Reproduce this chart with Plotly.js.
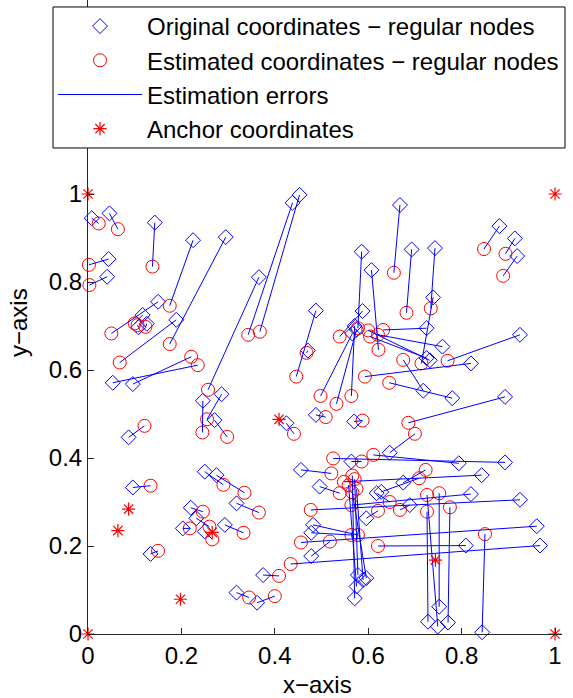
<!DOCTYPE html>
<html>
<head>
<meta charset="utf-8">
<script src="https://cdn.plot.ly/plotly-3.0.1.min.js"></script>
<style>html,body{margin:0;padding:0;background:#fff;}#chart{width:573px;height:698px;}</style>
</head>
<body>
<div id="chart"></div>
<script>
// Original (true) coordinates of regular nodes
const origX = [0.008,0.046,0.143,0.044,0.041,0.225,0.295,0.150,0.189,0.117,0.108,0.126,0.053,0.096,0.087,0.246,0.366,0.286,0.271,0.425,0.488,0.570,0.471,0.488,0.438,0.453,0.586,0.588,0.566,0.575,0.571,0.607,0.668,0.693,0.743,0.739,0.725,0.759,0.725,0.732,0.718,0.820,0.780,0.925,0.893,0.646,0.881,0.914,0.919,0.096,0.134,0.220,0.203,0.232,0.250,0.293,0.318,0.250,0.275,0.318,0.362,0.375,0.968,0.961,0.809,0.478,0.482,0.478,0.578,0.589,0.596,0.575,0.571,0.925,0.820,0.728,0.752,0.749,0.771,0.844,0.689,0.893,0.794,0.843,0.675,0.628,0.618,0.456,0.564,0.496,0.596];
const origY = [0.945,0.956,0.935,0.852,0.812,0.895,0.902,0.755,0.714,0.725,0.697,0.705,0.571,0.568,0.447,0.530,0.811,0.545,0.486,0.479,0.498,0.483,0.644,0.735,0.980,0.998,0.869,0.734,0.683,0.692,0.700,0.827,0.975,0.874,0.877,0.765,0.695,0.653,0.627,0.622,0.553,0.615,0.536,0.680,0.539,0.412,0.927,0.899,0.859,0.333,0.182,0.287,0.240,0.263,0.233,0.248,0.297,0.369,0.361,0.094,0.071,0.134,0.201,0.245,0.201,0.177,0.248,0.230,0.134,0.123,0.127,0.108,0.081,0.305,0.318,0.028,0.062,0.017,0.026,0.004,0.293,0.390,0.388,0.361,0.344,0.323,0.320,0.373,0.392,0.335,0.263];
// Estimated coordinates of regular nodes
const estX = [0.023,0.064,0.138,0.002,0.003,0.175,0.175,0.050,0.068,0.100,0.106,0.123,0.235,0.221,0.121,0.245,0.257,0.255,0.298,0.441,0.509,0.588,0.468,0.446,0.343,0.368,0.578,0.539,0.498,0.532,0.564,0.622,0.655,0.682,0.734,0.714,0.632,0.621,0.604,0.600,0.675,0.593,0.645,0.770,0.686,0.700,0.848,0.894,0.889,0.134,0.150,0.246,0.218,0.260,0.266,0.333,0.366,0.290,0.335,0.345,0.400,0.409,0.434,0.456,0.621,0.518,0.578,0.564,0.571,0.575,0.566,0.558,0.566,0.477,0.564,0.726,0.752,0.726,0.775,0.850,0.668,0.525,0.611,0.548,0.723,0.709,0.646,0.521,0.586,0.539,0.621];
const estY = [0.933,0.920,0.835,0.839,0.793,0.746,0.659,0.683,0.617,0.706,0.702,0.698,0.611,0.630,0.473,0.458,0.555,0.488,0.448,0.455,0.493,0.485,0.639,0.585,0.680,0.687,0.695,0.676,0.541,0.523,0.541,0.646,0.821,0.730,0.740,0.615,0.691,0.680,0.676,0.690,0.623,0.585,0.571,0.621,0.480,0.455,0.875,0.864,0.814,0.337,0.189,0.278,0.240,0.244,0.215,0.230,0.276,0.339,0.321,0.083,0.086,0.132,0.159,0.208,0.200,0.210,0.225,0.225,0.352,0.330,0.322,0.338,0.360,0.282,0.293,0.278,0.320,0.316,0.288,0.227,0.282,0.399,0.407,0.346,0.373,0.354,0.300,0.365,0.392,0.320,0.280];
// Anchor nodes
const anchorX = [0, 1, 0, 1, 0.409, 0.266, 0.744, 0.064, 0.087, 0.198];
const anchorY = [1, 1, 0, 0, 0.488, 0.231, 0.168, 0.235, 0.284, 0.079];
// Labels
const legendNames = ['Original coordinates \u2212 regular nodes','Estimated coordinates \u2212 regular nodes','Estimation errors','Anchor coordinates'];
const xTitle = 'x\u2212axis';
const yTitle = 'y\u2212axis';
const tickVals = [0, 0.2, 0.4, 0.6, 0.8, 1];
const tickText = ['0','0.2','0.4','0.6','0.8','1'];

const errX = [], errY = [];
for (let i = 0; i < origX.length; i++) {
  errX.push(origX[i], estX[i], null);
  errY.push(origY[i], estY[i], null);
}
const FONT = 'Liberation Sans, Arial, Helvetica, sans-serif';
const traces = [
  {x: origX, y: origY, mode: 'markers', type: 'scatter', name: legendNames[0], cliponaxis: false,
   marker: {symbol: 'diamond-open', size: 11.5, color: '#0000ff', line: {color: '#0000ff', width: 1}}},
  {x: estX, y: estY, mode: 'markers', type: 'scatter', name: legendNames[1], cliponaxis: false,
   marker: {symbol: 'circle-open', size: 13, color: '#ff0000', line: {color: '#ff0000', width: 1}}},
  {x: errX, y: errY, mode: 'lines', type: 'scatter', name: legendNames[2], cliponaxis: false,
   line: {color: '#0000ff', width: 1}},
  {x: anchorX, y: anchorY, mode: 'markers', type: 'scatter', name: legendNames[3], cliponaxis: false,
   marker: {symbol: 'asterisk-open', size: 11, color: '#ff0000', line: {color: '#ff0000', width: 1.2}}}
];
const layout = {
  width: 573, height: 698,
  margin: {l: 88, r: 11, t: 0, b: 64},
  paper_bgcolor: '#fff', plot_bgcolor: '#fff',
  font: {family: FONT, size: 24, color: '#000'},
  showlegend: true,
  legend: {x: -0.0738, xanchor: 'left', y: 0.9937, yanchor: 'top', borderwidth: 0,
           bgcolor: 'rgba(0,0,0,0)', font: {family: FONT, size: 24, color: '#000'}, tracegroupgap: 0, itemwidth: 84},
  shapes: [
    {type: 'rect', xref: 'paper', yref: 'paper', x0: -0.0738, x1: 1.0063, y0: 0.7666, y1: 0.9890,
     line: {color: '#000', width: 1}, fillcolor: '#fff', layer: 'above'}
  ],
  annotations: [
    {text: xTitle, xref: 'paper', yref: 'paper', x: 0.4852, y: -0.0804, xanchor: 'center', yanchor: 'middle',
     showarrow: false, font: {family: FONT, size: 24, color: '#000'}},
    {text: yTitle, xref: 'paper', yref: 'paper', x: -0.1477, y: 0.4921, xanchor: 'center', yanchor: 'middle',
     textangle: -90, showarrow: false, font: {family: FONT, size: 24, color: '#000'}}
  ],
  xaxis: {range: [0, 1.015], tickvals: tickVals, ticktext: tickText, ticks: 'inside', ticklen: 6, tickcolor: '#262626',
          showline: true, linecolor: '#262626', linewidth: 1, showgrid: false, zeroline: false, mirror: false,
          tickfont: {family: FONT, size: 24, color: '#000'}},
  yaxis: {range: [0, 1.4409], tickvals: tickVals, ticktext: tickText, ticks: 'inside', ticklen: 6, tickcolor: '#262626',
          showline: true, linecolor: '#262626', linewidth: 1, showgrid: false, zeroline: false, mirror: false,
          tickfont: {family: FONT, size: 24, color: '#000'}}
};
Plotly.newPlot('chart', traces, layout, {displayModeBar: false, staticPlot: true});
</script>
</body>
</html>
